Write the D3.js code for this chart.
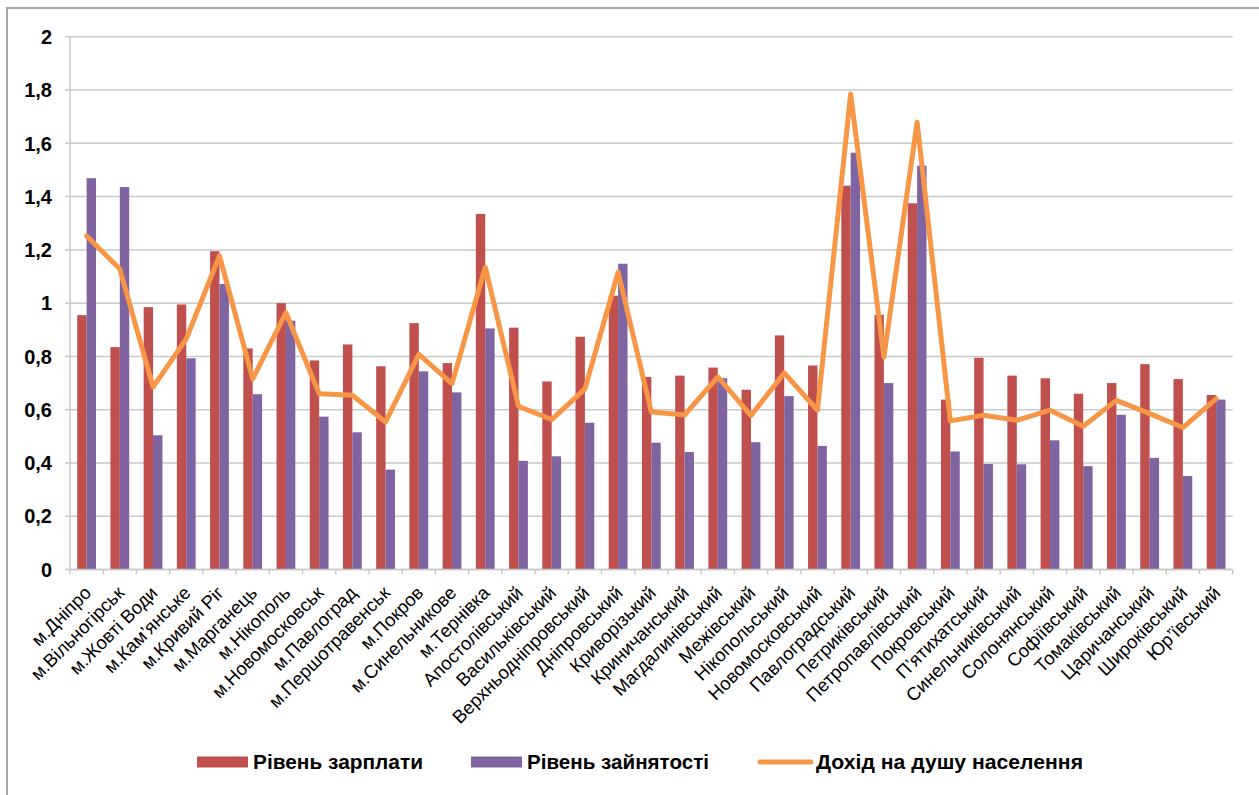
<!DOCTYPE html>
<html>
<head>
<meta charset="utf-8">
<script src="https://cdn.jsdelivr.net/npm/d3@7"></script>
<style>
    body { margin: 0; background: #fff; }
    svg { display: block; font-family: "Liberation Sans", Arial, sans-serif; }
</style>
</head>
<body>
<svg id="mainsvg" width="1259" height="795"></svg>
<script>
let categories = ["м.Дніпро", "м.Вільногірськ", "м.Жовті Води", "м.Кам’янське", "м.Кривий Ріг",
    "м.Марганець", "м.Нікополь", "м.Новомосковськ", "м.Павлоград", "м.Першотравенськ",
    "м.Покров", "м.Синельникове", "м.Тернівка", "Апостолівський", "Васильківський",
    "Верхньодніпровський", "Дніпровський", "Криворізький", "Криничанський", "Магдалинівський",
    "Межівський", "Нікопольський", "Новомосковський", "Павлоградський", "Петриківський",
    "Петропавлівський", "Покровський", "П’ятихатський", "Синельниківський", "Солонянський",
    "Софіївський", "Томаківський", "Царичанський", "Широківський", "Юр’ївський"];

// Рівень зарплати
let wage = [0.955, 0.835, 0.985, 0.995, 1.195, 0.83, 1.0, 0.785, 0.845, 0.763,
    0.925, 0.775, 1.335, 0.908, 0.706, 0.874, 1.028, 0.723, 0.728, 0.758,
    0.675, 0.879, 0.766, 1.441, 0.956, 1.375, 0.638, 0.795, 0.728, 0.718,
    0.66, 0.70, 0.771, 0.715, 0.655];

// Рівень зайнятості
let employment = [1.469, 1.436, 0.504, 0.793, 1.072, 0.658, 0.934, 0.574, 0.515, 0.375,
    0.744, 0.665, 0.905, 0.408, 0.425, 0.551, 1.148, 0.476, 0.441, 0.718,
    0.478, 0.651, 0.464, 1.565, 0.70, 1.516, 0.443, 0.396, 0.395, 0.485,
    0.388, 0.581, 0.419, 0.351, 0.638];

// Дохід на душу населення
let income = [1.252, 1.128, 0.685, 0.866, 1.178, 0.716, 0.964, 0.66, 0.654, 0.554,
    0.808, 0.698, 1.135, 0.613, 0.563, 0.678, 1.116, 0.591, 0.58, 0.723,
    0.578, 0.738, 0.598, 1.785, 0.798, 1.679, 0.558, 0.579, 0.56, 0.598,
    0.538, 0.635, 0.585, 0.533, 0.641];

let yTicks = [0, 0.2, 0.4, 0.6, 0.8, 1, 1.2, 1.4, 1.6, 1.8, 2];

let seriesNames = ["Рівень зарплати", "Рівень зайнятості", "Дохід на душу населення"];
let colors = ["#C0504D", "#8064A2", "#F79646"];

let svg = d3.select("#mainsvg");
let plotLeft = 70, plotRight = 1232.7, plotTop = 36.8, plotBottom = 569.5;
let gridColor = "#c9c9c9";
let barW = 9.4;

// outer frame
svg.append("rect")
    .attr("x", 7).attr("y", 8)
    .attr("width", 1400).attr("height", 1000)
    .attr("fill", "none")
    .attr("stroke", "#a6a6a6")
    .attr("stroke-width", 2);

let x = d3.scaleBand().domain(categories).range([plotLeft, plotRight]).padding(0);
let y = d3.scaleLinear().domain([0, 2]).range([plotBottom, plotTop]);

// gridlines
svg.append("g").selectAll("line").data(yTicks).enter()
    .append("line")
    .attr("x1", plotLeft - 5).attr("x2", plotRight)
    .attr("y1", d => y(d)).attr("y2", d => y(d))
    .attr("stroke", gridColor)
    .attr("stroke-width", 1.5);

// y axis line
svg.append("line")
    .attr("x1", plotLeft).attr("x2", plotLeft)
    .attr("y1", y(2)).attr("y2", plotBottom)
    .attr("stroke", gridColor).attr("stroke-width", 1.5);

// y labels
let fmt = d => String(+d.toFixed(1)).replace(".", ",");
svg.append("g").selectAll("text").data(yTicks).enter()
    .append("text")
    .attr("x", 52)
    .attr("y", d => y(d))
    .attr("dy", "0.36em")
    .attr("text-anchor", "end")
    .attr("font-size", 20)
    .attr("font-weight", "bold")
    .attr("fill", "#000")
    .text(fmt);

// bars
let barG = svg.append("g");
barG.selectAll(".wage").data(wage).enter()
    .append("rect").attr("class", "wage")
    .attr("x", (d, i) => x(categories[i]) + x.bandwidth() / 2 - barW)
    .attr("width", barW)
    .attr("y", d => y(d))
    .attr("height", d => plotBottom - y(d))
    .attr("fill", colors[0]);
barG.selectAll(".empl").data(employment).enter()
    .append("rect").attr("class", "empl")
    .attr("x", (d, i) => x(categories[i]) + x.bandwidth() / 2)
    .attr("width", barW)
    .attr("y", d => y(d))
    .attr("height", d => plotBottom - y(d))
    .attr("fill", colors[1]);

// x axis line + ticks
svg.append("line")
    .attr("x1", plotLeft).attr("x2", plotRight)
    .attr("y1", plotBottom).attr("y2", plotBottom)
    .attr("stroke", gridColor).attr("stroke-width", 1.5);
let tickPos = categories.map(c => x(c)).concat([plotRight]);
svg.append("g").selectAll("line").data(tickPos).enter()
    .append("line")
    .attr("x1", d => d).attr("x2", d => d)
    .attr("y1", plotBottom).attr("y2", plotBottom + 5)
    .attr("stroke", gridColor).attr("stroke-width", 1.5);

// income line
let line = d3.line()
    .x((d, i) => x(categories[i]) + x.bandwidth() / 2)
    .y(d => y(d));
svg.append("path")
    .datum(income)
    .attr("d", line)
    .attr("fill", "none")
    .attr("stroke", colors[2])
    .attr("stroke-width", 5)
    .attr("stroke-linejoin", "round")
    .attr("stroke-linecap", "round");

// category labels
svg.append("g").selectAll("text").data(categories).enter()
    .append("text")
    .attr("transform", d => "translate(" + (x(d) + x.bandwidth() / 2 + 1) + "," + (plotBottom + 20) + ") rotate(-45)")
    .attr("dy", "0.35em")
    .attr("text-anchor", "end")
    .attr("font-size", 18.5)
    .attr("fill", "#000")
    .text(d => d);

// legend
let legendY = 762;
let legendItems = [
    {name: seriesNames[0], color: colors[0], kind: "rect", x0: 197, x1: 248, tx: 253, tw: 170},
    {name: seriesNames[1], color: colors[1], kind: "rect", x0: 471, x1: 522, tx: 527, tw: 182},
    {name: seriesNames[2], color: colors[2], kind: "line", x0: 760, x1: 811, tx: 816, tw: 267}
];
let lg = svg.append("g");
legendItems.forEach(function (it) {
    if (it.kind === "rect") {
        lg.append("rect")
            .attr("x", it.x0).attr("y", legendY - 5.5)
            .attr("width", it.x1 - it.x0).attr("height", 11)
            .attr("fill", it.color);
    } else {
        lg.append("line")
            .attr("x1", it.x0).attr("x2", it.x1)
            .attr("y1", legendY).attr("y2", legendY)
            .attr("stroke", it.color).attr("stroke-width", 5)
            .attr("stroke-linecap", "round");
    }
    lg.append("text")
        .attr("x", it.tx).attr("y", legendY)
        .attr("dy", "0.36em")
        .attr("font-size", 20)
        .attr("font-weight", "bold")
        .attr("textLength", it.tw)
        .attr("lengthAdjust", "spacingAndGlyphs")
        .attr("fill", "#000")
        .text(it.name);
});
</script>
</body>
</html>
